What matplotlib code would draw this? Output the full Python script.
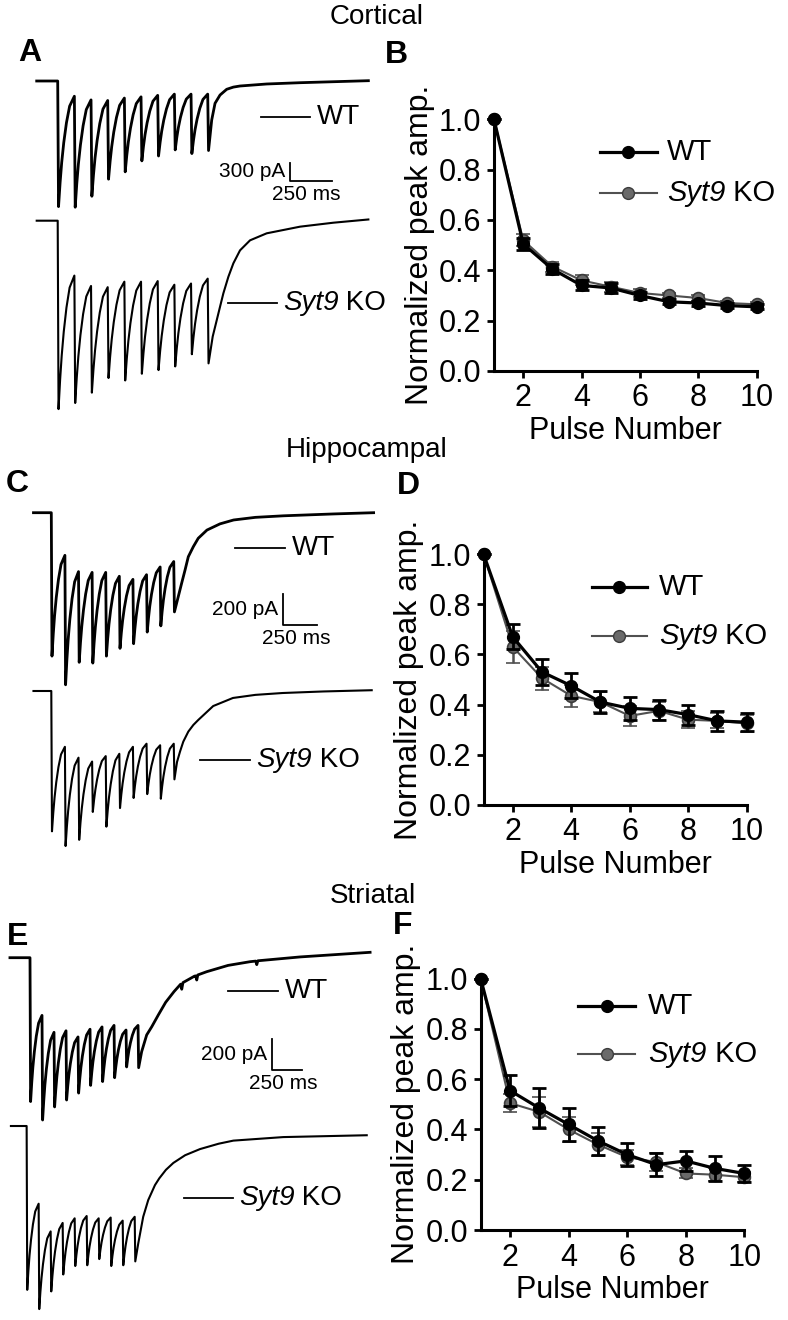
import numpy as np
import matplotlib
matplotlib.use("Agg")
import matplotlib.pyplot as plt

plt.rcParams["font.family"] = ["Liberation Sans", "DejaVu Sans"]

W, H = 788, 1320

# ---- example traces (pA vs ms) ----
PULSE_MS = [0, 100, 200, 300, 400, 500, 600, 700, 800, 900]
# shape of one recovery between pulses (fraction of interval, fraction recovered)
REC_T = [0.0, 0.1, 0.2, 0.33, 0.5, 0.7, 1.0]
REC_I = [0.0, 0.22, 0.40, 0.58, 0.76, 0.91, 1.0]
DROP_MS = 5

# peaks of the 10 responses, level reached just before pulses 2-10, then the decay tail
cort_wt_peak = [-2060, -2070, -1890, -1610, -1490, -1310, -1230, -1130, -1190, -1140]
cort_wt_top = [-250, -310, -320, -280, -260, -235, -215, -215, -215]
cort_wt_tail_t = [924, 944, 974, 1014, 1054, 1094, 1254, 1454, 1864]
cort_wt_tail_i = [-640, -366, -230, -136, -100, -82, -49, -28, 5]
cort_ko_peak = [-3090, -2990, -2820, -2580, -2620, -2510, -2450, -2390, -2190, -2340]
cort_ko_top = [-900, -1070, -1090, -1000, -1000, -990, -1050, -1030, -950]
cort_ko_tail_t = [930, 954, 975, 994, 1024, 1054, 1094, 1154, 1254, 1454, 1654, 1864]
cort_ko_tail_i = [-1900, -1634, -1400, -1191, -920, -699, -486, -322, -207, -98, -33, 20]

hip_wt_peak = [-925, -1110, -965, -970, -925, -875, -845, -770, -730, -640]
hip_wt_top = [-275, -380, -385, -385, -410, -430, -400, -350, -315]
hip_wt_tail_t = [933, 958, 983, 1007, 1044, 1080, 1144, 1240, 1340, 1500, 1707, 2075, 2369]
hip_wt_tail_i = [-542, -455, -370, -284, -219, -165, -112, -72, -47, -30, -20, -8, 0]
hip_ko_peak = [-905, -1000, -960, -780, -875, -755, -690, -665, -695, -570]
hip_ko_top = [-360, -430, -455, -420, -405, -360, -340, -350, -340]
hip_ko_tail_t = [924, 946, 970, 1007, 1044, 1080, 1190, 1335, 1500, 1700, 2000, 2355]
hip_ko_tail_i = [-458, -391, -327, -262, -219, -187, -97, -45, -25, -13, -3, 5]

str_wt_peak = [-935, -1055, -970, -925, -880, -830, -805, -780, -710, -715]
str_wt_top = [-375, -485, -475, -515, -465, -450, -440, -470, -440]
str_wt_tail_t = [930, 972, 1014, 1069, 1130, 1200, 1255, 1264, 1274, 1370, 1380, 1389,
                 1398, 1472, 1650, 1833, 1880, 1889, 1898, 2250, 2833]
str_wt_tail_i = [-611, -502, -449, -372, -290, -220, -172, -205, -162, -120, -118, -145,
                 -112, -91, -50, -26, -22, -45, -20, 5, 35]
str_ko_peak = [-1065, -1190, -1075, -965, -910, -905, -865, -910, -905, -880]
str_ko_top = [-505, -685, -630, -600, -585, -600, -595, -615, -590]
str_ko_tail_t = [930, 971, 1013, 1069, 1105, 1160, 1222, 1320, 1444, 1600, 1722, 2138, 2833]
str_ko_tail_i = [-762, -590, -481, -384, -340, -285, -240, -190, -150, -115, -95, -72, -60]

# ---- normalized peak amplitude (mean, sem) ----
pulse = [1, 2, 3, 4, 5, 6, 7, 8, 9, 10]
b_wt = [1.0, 0.505, 0.405, 0.34, 0.33, 0.30, 0.275, 0.27, 0.26, 0.255]
b_wt_err = [0, 0.025, 0.02, 0.02, 0.02, 0.015, 0.01, 0.01, 0.01, 0.01]
b_ko = [1.0, 0.52, 0.415, 0.36, 0.335, 0.31, 0.30, 0.29, 0.27, 0.265]
b_ko_err = [0, 0.025, 0.02, 0.02, 0.02, 0.015, 0.01, 0.01, 0.01, 0.01]
d_wt = [1.0, 0.67, 0.53, 0.475, 0.41, 0.385, 0.38, 0.36, 0.335, 0.33]
d_wt_err = [0, 0.05, 0.05, 0.05, 0.045, 0.045, 0.04, 0.04, 0.04, 0.035]
d_ko = [1.0, 0.63, 0.505, 0.435, 0.41, 0.355, 0.375, 0.34, 0.335, 0.325]
d_ko_err = [0, 0.065, 0.045, 0.045, 0.04, 0.04, 0.035, 0.035, 0.03, 0.035]
f_wt = [1.0, 0.555, 0.485, 0.42, 0.355, 0.30, 0.26, 0.275, 0.245, 0.225]
f_wt_err = [0, 0.06, 0.08, 0.065, 0.055, 0.045, 0.045, 0.04, 0.05, 0.035]
f_ko = [1.0, 0.505, 0.47, 0.40, 0.34, 0.29, 0.27, 0.225, 0.22, 0.21]
f_ko_err = [0, 0.035, 0.06, 0.05, 0.045, 0.03, 0.035, 0.02, 0.025, 0.02]

fig = plt.figure(figsize=(W / 100, H / 100), dpi=100)


def fig_rect(x0, y0, x1, y1):
    return [x0 / W, 1 - y1 / H, (x1 - x0) / W, (y1 - y0) / H]


def ko_text(ax, x, y, size, **kw):
    # "Syt9" in italics followed by upright " KO"
    t1 = ax.text(x, y, "Syt9", fontsize=size, fontstyle="italic", ha="left",
                 va="center", **kw)
    ax.annotate(" KO", xy=(1, 0.5), xycoords=t1, fontsize=size, ha="left", va="center")


def build_trace(peaks, tops, tail_t, tail_i, t_start, shift=0):
    t = [t_start, PULSE_MS[0]]
    v = [0.0, 0.0]
    for k, p in enumerate(PULSE_MS):
        tp = p + DROP_MS
        if k < len(tops):
            t_next = PULSE_MS[k + 1]
            for ft, fi in zip(REC_T, REC_I):
                t.append(tp + ft * (t_next - tp))
                v.append(peaks[k] + fi * (tops[k] - peaks[k]))
        else:
            t.append(tp)
            v.append(peaks[k])
    t += tail_t
    v += tail_i
    return np.array(t) + shift, np.array(v)


def trace_panel(box, x0, ms_px, y0, pa_px, ko_off, wt, ko, wt_lab, ko_lab,
                corner, bar_pa, ko_shift=0):
    bx0, by0, bx1, by1 = box
    ax = fig.add_axes(fig_rect(*box))
    ax.set_xlim((bx0 - x0) * ms_px, (bx1 - x0) * ms_px)
    ax.set_ylim(-(by1 - y0) * pa_px, -(by0 - y0) * pa_px)
    ax.axis("off")

    def pt(xp, yp):
        return (xp - x0) * ms_px, -(yp - y0) * pa_px

    t, v = build_trace(*wt)
    ax.plot(t, v, color="black", lw=2.0, solid_joinstyle="round")
    t, v = build_trace(*ko, shift=ko_shift)
    ax.plot(t, v + ko_off, color="black", lw=1.5, solid_joinstyle="round")

    ta, ya = pt(wt_lab[0], wt_lab[2])
    tb, _ = pt(wt_lab[1], wt_lab[2])
    ax.plot([ta, tb], [ya, ya], color="black", lw=1.3)
    ax.text(tb + 7 * ms_px, ya, "WT", fontsize=20, ha="left", va="center")
    ta, ya = pt(ko_lab[0], ko_lab[2])
    tb, _ = pt(ko_lab[1], ko_lab[2])
    ax.plot([ta, tb], [ya, ya], color="black", lw=1.3)
    ko_text(ax, tb + 6 * ms_px, ya, 20)

    tc, ic = pt(*corner)
    ax.plot([tc, tc, tc + 250], [ic + bar_pa, ic, ic], color="black", lw=1.3)
    ax.text(tc - 5 * ms_px, ic + bar_pa / 2, f"{bar_pa} pA", fontsize=15,
            ha="right", va="center")
    ax.text(tc + 100, ic - 4 * pa_px, "250 ms", fontsize=15, ha="center", va="top")


trace_panel((0, 30, 394, 430), 57.7, 6.0, 81, 16.4, -2291,
            (cort_wt_peak, cort_wt_top, cort_wt_tail_t, cort_wt_tail_i, -126),
            (cort_ko_peak, cort_ko_top, cort_ko_tail_t, cort_ko_tail_i, -126),
            (261, 310, 117), (228, 277, 302.7), (290, 181), 300)
trace_panel((0, 460, 394, 870), 51.3, 7.35, 512.7, 6.45, -1150,
            (hip_wt_peak, hip_wt_top, hip_wt_tail_t, hip_wt_tail_i, -131),
            (hip_ko_peak, hip_ko_top, hip_ko_tail_t, hip_ko_tail_i, -131),
            (235, 285, 548.3), (200, 250, 760), (282.7, 625), 200)
trace_panel((0, 900, 394, 1318), 30, 8.33, 957.7, 6.5, -1094,
            (str_wt_peak, str_wt_top, str_wt_tail_t, str_wt_tail_i, -167),
            (str_ko_peak, str_ko_top, str_ko_tail_t, str_ko_tail_i, -131),
            (228, 278, 991), (184, 233, 1198.3), (271.7, 1070), 200, ko_shift=-28)


def amp_panel(box, wt, wt_err, ko, ko_err, leg_x, leg_y):
    bx0, by0, bx1, by1 = box
    ax = fig.add_axes(fig_rect(*box))
    ax.errorbar(pulse, ko, yerr=ko_err, color="#505050", lw=1.5, marker="o", ms=8.5,
                mfc="#6a6a6a", mec="#3c3c3c", mew=1.2, capsize=5, capthick=1.8,
                elinewidth=1.8, clip_on=False, zorder=3)
    ax.errorbar(pulse, wt, yerr=wt_err, color="black", lw=2.3, marker="o", ms=8.5,
                mfc="black", mec="black", capsize=5, capthick=2, elinewidth=2,
                clip_on=False, zorder=4)
    ax.set_xlim(1, 10)
    ax.set_ylim(0, 1.0)
    ax.set_xticks([2, 4, 6, 8, 10])
    ax.set_yticks([0, 0.2, 0.4, 0.6, 0.8, 1.0])
    ax.set_yticklabels(["0.0", "0.2", "0.4", "0.6", "0.8", "1.0"])
    for s in ["top", "right"]:
        ax.spines[s].set_visible(False)
    for s in ["left", "bottom"]:
        ax.spines[s].set_linewidth(2.2)
    ax.tick_params(direction="out", length=5, width=2, labelsize=22, pad=4)
    ax.set_ylabel("Normalized peak amp.", fontsize=23, labelpad=3)
    ax.set_xlabel("Pulse Number", fontsize=22, labelpad=2)

    def fx(xp):
        return (xp - bx0) / (bx1 - bx0)

    def fy(yp):
        return (by1 - yp) / (by1 - by0)

    xa, xb, xt = leg_x
    rows = [(leg_y[0], "black", 2.3, "black", "black"),
            (leg_y[1], "#505050", 1.5, "#6a6a6a", "#3c3c3c")]
    for yy, col, lw, mfc, mec in rows:
        ax.plot([fx(xa), fx(xb)], [fy(yy), fy(yy)], color=col, lw=lw,
                transform=ax.transAxes, clip_on=False)
        ax.plot([fx((xa + xb) / 2)], [fy(yy)], marker="o", ms=8.5, mfc=mfc, mec=mec,
                transform=ax.transAxes, clip_on=False)
    ax.text(fx(xt), fy(leg_y[0]), "WT", fontsize=21, ha="left", va="center",
            transform=ax.transAxes)
    ko_text(ax, fx(xt), fy(leg_y[1]), 21, transform=ax.transAxes)
    return ax


amp_panel((494, 119.3, 756.5, 371), b_wt, b_wt_err, b_ko, b_ko_err,
          (600, 656.7, 666.7), (151.7, 193.3))
amp_panel((483.5, 554, 746.7, 805), d_wt, d_wt_err, d_ko, d_ko_err,
          (591.7, 646.7, 659), (586.7, 636))
amp_panel((480.7, 978.7, 744.3, 1230), f_wt, f_wt_err, f_ko, f_ko_err,
          (578.3, 635, 648.3), (1006, 1054))

for txt, x, y in [("Cortical", 330, 17), ("Hippocampal", 286, 450), ("Striatal", 330, 896)]:
    fig.text(x / W, 1 - y / H, txt, fontsize=20, ha="left", va="center")
for txt, x, y in [("A", 30, 53), ("B", 396, 55), ("C", 17, 484),
                  ("D", 408, 486), ("E", 18, 937), ("F", 403, 926)]:
    fig.text(x / W, 1 - y / H, txt, fontsize=23, fontweight="bold",
             ha="center", va="center")

fig.savefig("out.png", dpi=100)
